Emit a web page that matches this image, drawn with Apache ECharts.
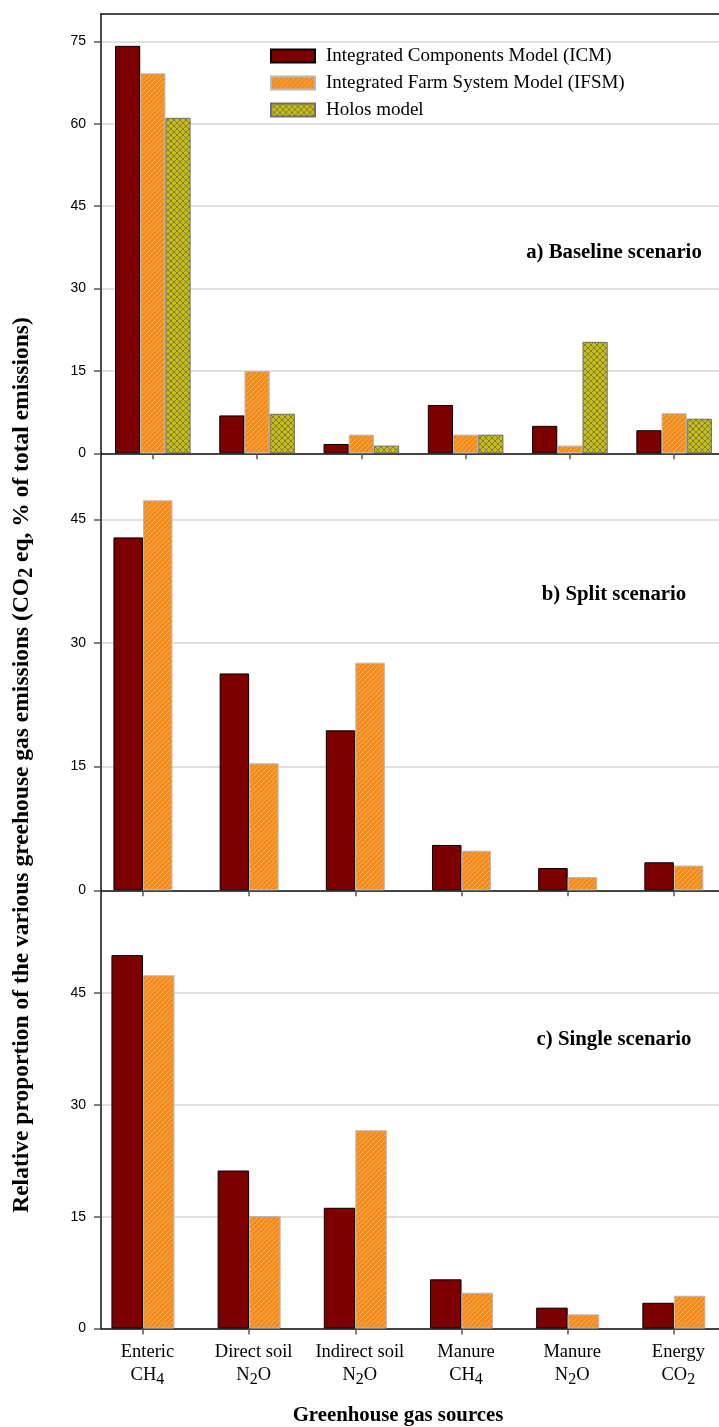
<!DOCTYPE html>
<html>
<head>
<meta charset="utf-8">
<script src="https://cdn.jsdelivr.net/npm/echarts@6/dist/echarts.min.js"></script>
<style>
  html, body { margin: 0; padding: 0; background: #ffffff; }
  #chart { width: 719px; height: 1427px; }
</style>
</head>
<body>
<div id="chart"></div>
<script>
// Greenhouse gas sources (first line of the label, gas formula on the second line)
const sourceNames = ['Enteric', 'Direct soil', 'Indirect soil', 'Manure', 'Manure', 'Energy'];
const sourceGases = ['CH4', 'N2O', 'N2O', 'CH4', 'N2O', 'CO2'];

// Relative proportion of emissions (% of total, CO2 eq)
const baselineICM   = [74.2, 6.9, 1.7, 8.8, 5.0, 4.2];
const baselineIFSM  = [69.2, 15.0, 3.4, 3.4, 1.4, 7.3];
const baselineHolos = [61.1, 7.2, 1.4, 3.4, 20.3, 6.3];

const splitICM  = [42.8, 26.3, 19.4, 5.5, 2.7, 3.4];
const splitIFSM = [47.3, 15.4, 27.6, 4.8, 1.6, 3.0];

const singleICM  = [50.1, 21.2, 16.2, 6.6, 2.8, 3.45];
const singleIFSM = [47.4, 15.1, 26.6, 4.8, 1.9, 4.4];

const yTicksBaseline = [0, 15, 30, 45, 60, 75];
const yTicksOther = [0, 15, 30, 45];

const modelNames = ['Integrated Components Model (ICM)', 'Integrated Farm System Model (IFSM)', 'Holos model'];
const panelTitles = ['a) Baseline scenario', 'b) Split scenario', 'c) Single scenario'];
const xTitle = 'Greenhouse gas sources';
const yTitleParts = ['Relative proportion of the various greehouse gas emissions (CO', '2', ' eq, % of total emissions)'];

// category positions along the value x axis
const positions = sourceNames.map((_, i) => i + 1);
const pairs = vals => vals.map((v, i) => [positions[i], v]);

// turn a formula such as "N2O" into rich text with subscript digits
function formulaRich(f) {
  return f.split(/(\d+)/).filter(p => p.length).map(p => /^\d+$/.test(p) ? '{s|' + p + '}' : '{a|' + p + '}').join('');
}

// fill patterns
function stripePattern() {
  const c = document.createElement('canvas');
  c.width = 5; c.height = 5;
  const g = c.getContext('2d');
  g.fillStyle = '#ff8a0a';
  g.fillRect(0, 0, 5, 5);
  g.strokeStyle = 'rgba(196,186,176,0.95)';
  g.lineWidth = 1;
  g.beginPath();
  g.moveTo(-1, 6); g.lineTo(6, -1);
  g.moveTo(-1, 1); g.lineTo(1, -1);
  g.moveTo(4, 6); g.lineTo(6, 4);
  g.stroke();
  return { image: c, repeat: 'repeat' };
}
function crossPattern() {
  const c = document.createElement('canvas');
  c.width = 6; c.height = 6;
  const g = c.getContext('2d');
  g.fillStyle = '#c8c000';
  g.fillRect(0, 0, 6, 6);
  g.strokeStyle = 'rgba(120,116,100,0.95)';
  g.lineWidth = 1;
  g.beginPath();
  g.moveTo(0, 0); g.lineTo(6, 6);
  g.moveTo(0, 6); g.lineTo(6, 0);
  g.stroke();
  return { image: c, repeat: 'repeat' };
}

const icmStyle   = { color: '#7d0000', borderColor: '#000000', borderWidth: 1 };
const ifsmStyle  = { color: stripePattern(), borderColor: '#b9b9b9', borderWidth: 1 };
const holosStyle = { color: crossPattern(), borderColor: '#6f6f6f', borderWidth: 1 };

const serif = "'Liberation Serif', 'Times New Roman', Times, serif";
const sans = "'Liberation Sans', Arial, Helvetica, sans-serif";

const grids = [
  { left: 101, right: 0, top: 14, height: 439.3 },
  { left: 101, right: 0, top: 453.3, height: 437 },
  { left: 101, right: 0, top: 890.3, height: 438.2 }
];
const xRanges = [[0.503, 6.43], [0.605, 6.425], [0.605, 6.425]];
const yMax = [80, 53, 58.8];

function xAxisFor(i) {
  return {
    type: 'value', gridIndex: i, position: 'bottom',
    min: xRanges[i][0], max: xRanges[i][1],
    axisLine: { show: true, onZero: false, lineStyle: { color: '#111', width: 1.5 } },
    axisTick: { show: true, inside: false, length: 6, customValues: positions,
                lineStyle: { color: '#555', width: 1.5 } },
    axisLabel: i === 2 ? {
      show: true, customValues: positions, margin: 12,
      formatter: v => {
        const k = Math.round(v) - 1;
        return '{a|' + sourceNames[k] + '}\n' + formulaRich(sourceGases[k]);
      },
      rich: {
        a: { fontFamily: serif, fontSize: 18.5, color: '#000', lineHeight: 23 },
        s: { fontFamily: serif, fontSize: 16, color: '#000', lineHeight: 23, padding: [9, 0, 0, 0] }
      },
      padding: [0, 0, 0, 9]
    } : { show: false },
    splitLine: { show: false }
  };
}

function yAxisFor(i) {
  const ticks = i === 0 ? yTicksBaseline : yTicksOther;
  return {
    type: 'value', gridIndex: i, min: 0, max: yMax[i], interval: 15,
    axisLine: { show: true, lineStyle: { color: '#111', width: 1.5 } },
    axisTick: { show: true, length: 7, customValues: ticks, lineStyle: { color: '#555', width: 1.5 } },
    axisLabel: { show: true, customValues: ticks, margin: 15, fontFamily: sans, fontSize: 14, color: '#000' },
    splitLine: { show: true, lineStyle: { color: '#d6d6d6', width: 1.5 } }
  };
}

const xAxes = [xAxisFor(0), xAxisFor(1), xAxisFor(2), {
  // frame line along the top of the baseline panel
  type: 'value', gridIndex: 0, position: 'top', min: xRanges[0][0], max: xRanges[0][1],
  axisLine: { show: true, onZero: false, lineStyle: { color: '#111', width: 1.5 } },
  axisTick: { show: false }, axisLabel: { show: false }, splitLine: { show: false }
}];

const barWidths = [25.2, 29.5, 31.5];
function bar(name, vals, panel, style) {
  return {
    type: 'bar', name: name, xAxisIndex: panel, yAxisIndex: panel,
    data: pairs(vals), barWidth: barWidths[panel], barGap: '0%',
    itemStyle: style, emphasis: { disabled: true }, silent: true, animation: false
  };
}

const series = [
  bar(modelNames[0], baselineICM, 0, icmStyle),
  bar(modelNames[1], baselineIFSM, 0, ifsmStyle),
  bar(modelNames[2], baselineHolos, 0, holosStyle),
  bar(modelNames[0], splitICM, 1, icmStyle),
  bar(modelNames[1], splitIFSM, 1, ifsmStyle),
  bar(modelNames[0], singleICM, 2, icmStyle),
  bar(modelNames[1], singleIFSM, 2, ifsmStyle)
];

const titleTops = [242, 584, 1029];
const titles = panelTitles.map((t, i) => ({
  text: t, left: 614, top: titleTops[i], textAlign: 'center', padding: 0,
  textStyle: { fontFamily: serif, fontSize: 20.8, fontWeight: 'bold', color: '#000' }
}));
titles.push({
  text: xTitle, left: 398, top: 1405, textAlign: 'center', padding: 0,
  textStyle: { fontFamily: serif, fontSize: 20.8, fontWeight: 'bold', color: '#000' }
});

const chart = echarts.init(document.getElementById('chart'), null, { renderer: 'canvas' });
chart.setOption({
  animation: false,
  backgroundColor: '#ffffff',
  title: titles,
  legend: {
    orient: 'vertical', left: 270, top: 45, padding: 0,
    itemWidth: 44, itemHeight: 13, itemGap: 5, selectedMode: false,
    data: modelNames.map(n => ({ name: n, icon: 'rect' })),
    textStyle: { fontFamily: serif, fontSize: 19, color: '#000', lineHeight: 22, padding: [0, 0, 0, 6] }
  },
  grid: grids,
  xAxis: xAxes,
  yAxis: [yAxisFor(0), yAxisFor(1), yAxisFor(2)],
  series: series,
  graphic: [{
    type: 'text', x: 22, y: 765, rotation: Math.PI / 2, silent: true,
    style: {
      text: '{b|' + yTitleParts[0] + '}{s|' + yTitleParts[1] + '}{b|' + yTitleParts[2] + '}',
      align: 'center', verticalAlign: 'middle',
      rich: {
        b: { fontFamily: serif, fontSize: 23.5, fontWeight: 'bold', fill: '#000', lineHeight: 28 },
        s: { fontFamily: serif, fontSize: 20, fontWeight: 'bold', fill: '#000', lineHeight: 28, padding: [10, 0, 0, 0] }
      }
    }
  }]
});
</script>
</body>
</html>
